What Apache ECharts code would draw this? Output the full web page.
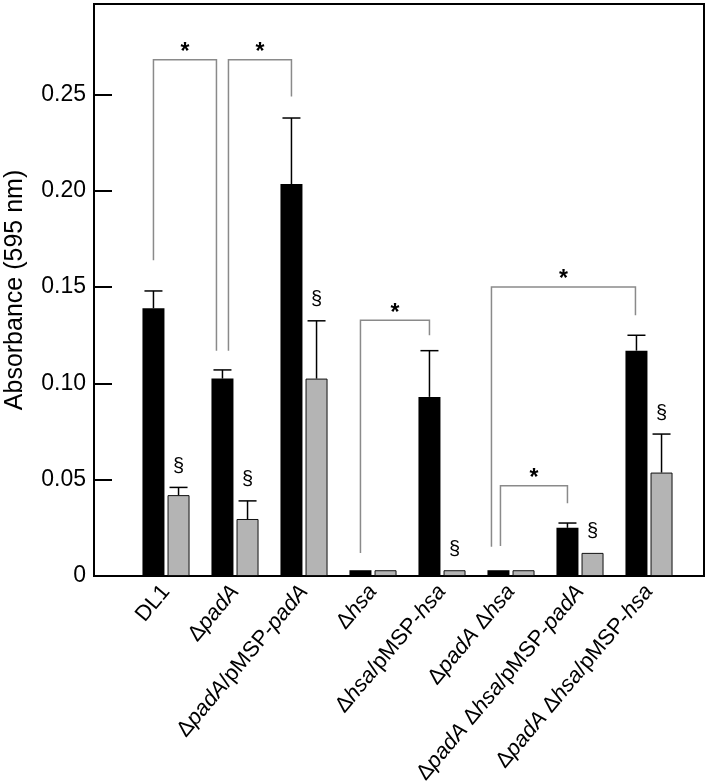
<!DOCTYPE html>
<html>
<head>
<meta charset="utf-8">
<script src="https://cdn.jsdelivr.net/npm/echarts@6/dist/echarts.min.js"></script>
<style>
html,body{margin:0;padding:0;background:#fff;}
#chart{width:709px;height:783px;}
</style>
</head>
<body>
<div id="chart"></div>
<script>
// ---------- data ----------
const categories = ['DL1', 'ΔpadA', 'ΔpadA/pMSP-padA', 'Δhsa', 'Δhsa/pMSP-hsa',
  'ΔpadA Δhsa', 'ΔpadA Δhsa/pMSP-padA', 'ΔpadA Δhsa/pMSP-hsa'];
const blackMeans = [0.139, 0.1025, 0.2035, 0.003, 0.093, 0.003, 0.025, 0.117];
const blackErr   = [0.009, 0.0045, 0.0343, 0, 0.024, 0, 0.0025, 0.008];
const greyMeans  = [0.042, 0.0296, 0.1025, 0.003, 0.003, 0.003, 0.012, 0.0537];
const greyErr    = [0.004, 0.0094, 0.030, 0, 0, 0, 0, 0.020];
const greyMarked = [true, true, true, false, true, false, true, true]; // "§"
const yTicks = [0, 0.05, 0.10, 0.15, 0.20, 0.25];
const yMax = 0.297;
// significance brackets ("*")
const bracketFrom     = [0, 1, 3, 5, 5];
const bracketTo       = [1, 2, 4, 7, 6];
const bracketTop      = [0.268, 0.268, 0.1328, 0.150, 0.0468];
const bracketLeftEnd  = [0.164, 0.117, 0.012, 0.0152, 0.0156];
const bracketRightEnd = [0.117, 0.249, 0.125, 0.1354, 0.0378];

// ---------- styles ----------
const FONT = "'Liberation Sans', Arial, sans-serif";
const BAR_W = 22;
const BAR_GAP = 0.14;
const BAR_OFF = (BAR_W + BAR_W * BAR_GAP) / 2;
const GREY = '#b4b4b4';
const legNudgeL = [0, 6, 0, -7, 2];
const legNudgeR = [-6, 0, 0, -1, 0];

function fmtLabel(name) {
  return name.split(/(padA|hsa)/).filter(s => s.length)
    .map(s => (s === 'padA' || s === 'hsa') ? '{i|' + s + '}' : '{r|' + s + '}').join('');
}

const chart = echarts.init(document.getElementById('chart'), null, {renderer: 'canvas'});

const errData = [];
categories.forEach((c, i) => {
  if (blackErr[i] > 0) errData.push([i, blackMeans[i] + blackErr[i], blackMeans[i], -1]);
  if (greyErr[i] > 0) errData.push([i, greyMeans[i] + greyErr[i], greyMeans[i], 1]);
});
const secData = [];
categories.forEach((c, i) => {
  if (greyMarked[i]) secData.push([i, greyMeans[i] + greyErr[i]]);
});
const brData = bracketFrom.map((f, k) => [f, bracketTop[k], k]);

const option = {
  animation: false,
  backgroundColor: '#fff',
  grid: [
    {left: 94, right: 5, top: 4, bottom: 207, show: true, borderColor: '#000', borderWidth: 2,
     containLabel: false, outerBoundsMode: 'none'},
    {left: 131.5, right: 25.5, top: 4, bottom: 207, containLabel: false, outerBoundsMode: 'none'}
  ],
  xAxis: [
    {gridIndex: 0, type: 'category', data: categories,
     axisLine: {show: true, lineStyle: {color: '#000', width: 2}},
     axisTick: {show: false}, axisLabel: {show: false}},
    {gridIndex: 1, type: 'category', data: categories,
     axisLine: {show: false}, axisTick: {show: false},
     axisLabel: {
       interval: 0, rotate: 50, margin: 12,
       formatter: fmtLabel,
       rich: {
         r: {fontFamily: FONT, fontSize: 22, color: '#000'},
         i: {fontFamily: FONT, fontSize: 22, color: '#000', fontStyle: 'italic'}
       }
     }}
  ],
  yAxis: [
    {gridIndex: 0, type: 'value', min: 0, max: yMax, interval: yTicks[1] - yTicks[0],
     name: 'Absorbance (595 nm)', nameLocation: 'middle', nameGap: 66,
     nameTextStyle: {fontFamily: FONT, fontSize: 25, color: '#000'},
     axisLine: {show: true, lineStyle: {color: '#000', width: 2}},
     axisTick: {show: true, inside: true, length: 18, lineStyle: {color: '#000', width: 2}},
     axisLabel: {fontFamily: FONT, fontSize: 23, color: '#000', margin: 8, showMaxLabel: false,
       formatter: v => (v === 0 ? '0' : (yTicks.some(t => Math.abs(t - v) < 1e-9) ? v.toFixed(2) : ''))},
     splitLine: {show: false}},
    {gridIndex: 1, type: 'value', min: 0, max: yMax, show: false, splitLine: {show: false}}
  ],
  series: [
    {type: 'bar', xAxisIndex: 1, yAxisIndex: 1, data: blackMeans, barWidth: BAR_W,
     barGap: (BAR_GAP * 100) + '%', itemStyle: {color: '#000'}, z: 2},
    {type: 'bar', xAxisIndex: 1, yAxisIndex: 1, data: greyMeans, barWidth: BAR_W,
     itemStyle: {color: GREY, borderColor: '#111', borderWidth: 1}, z: 2},
    {type: 'custom', xAxisIndex: 1, yAxisIndex: 1, data: errData, z: 3, clip: false,
     encode: {x: 0, y: 1},
     renderItem: (params, api) => {
       const top = api.coord([api.value(0), api.value(1)]);
       const base = api.coord([api.value(0), api.value(2)]);
       const x = top[0] + api.value(3) * BAR_OFF;
       const cw = 9;
       return {type: 'group', children: [
         {type: 'line', shape: {x1: x, y1: base[1], x2: x, y2: top[1]}, style: {stroke: '#000', lineWidth: 1.5}},
         {type: 'line', shape: {x1: x - cw, y1: top[1], x2: x + cw, y2: top[1]}, style: {stroke: '#000', lineWidth: 1.5}}
       ]};
     }},
    {type: 'custom', xAxisIndex: 1, yAxisIndex: 1, data: secData, z: 3, clip: false,
     encode: {x: 0, y: 1},
     renderItem: (params, api) => {
       const p = api.coord([api.value(0), api.value(1)]);
       return {type: 'text', style: {text: '§', x: p[0] + BAR_OFF, y: p[1] - 21,
         align: 'center', verticalAlign: 'middle', font: '20px ' + FONT, fill: '#000'}};
     }},
    {type: 'custom', xAxisIndex: 1, yAxisIndex: 1, data: brData, z: 3, clip: false,
     encode: {x: 0, y: 1},
     renderItem: (params, api) => {
       const k = api.value(2);
       const pT = api.coord([bracketFrom[k], bracketTop[k]]);
       const pL = api.coord([bracketFrom[k], bracketLeftEnd[k]]);
       const pR = api.coord([bracketTo[k], bracketRightEnd[k]]);
       const xl = pL[0] - BAR_OFF + legNudgeL[k];
       const xr = pR[0] - BAR_OFF + legNudgeR[k];
       const st = {stroke: '#8a8a8a', lineWidth: 1.5, fill: null};
       return {type: 'group', children: [
         {type: 'polyline', shape: {points: [[xl, pL[1]], [xl, pT[1]], [xr, pT[1]], [xr, pR[1]]]}, style: st},
         {type: 'text', style: {text: '*', x: (xl + xr) / 2, y: pT[1] - 7, align: 'center',
           verticalAlign: 'middle', font: 'bold 23px ' + FONT, fill: '#000'}}
       ]};
     }}
  ]
};
chart.setOption(option);
</script>
</body>
</html>
